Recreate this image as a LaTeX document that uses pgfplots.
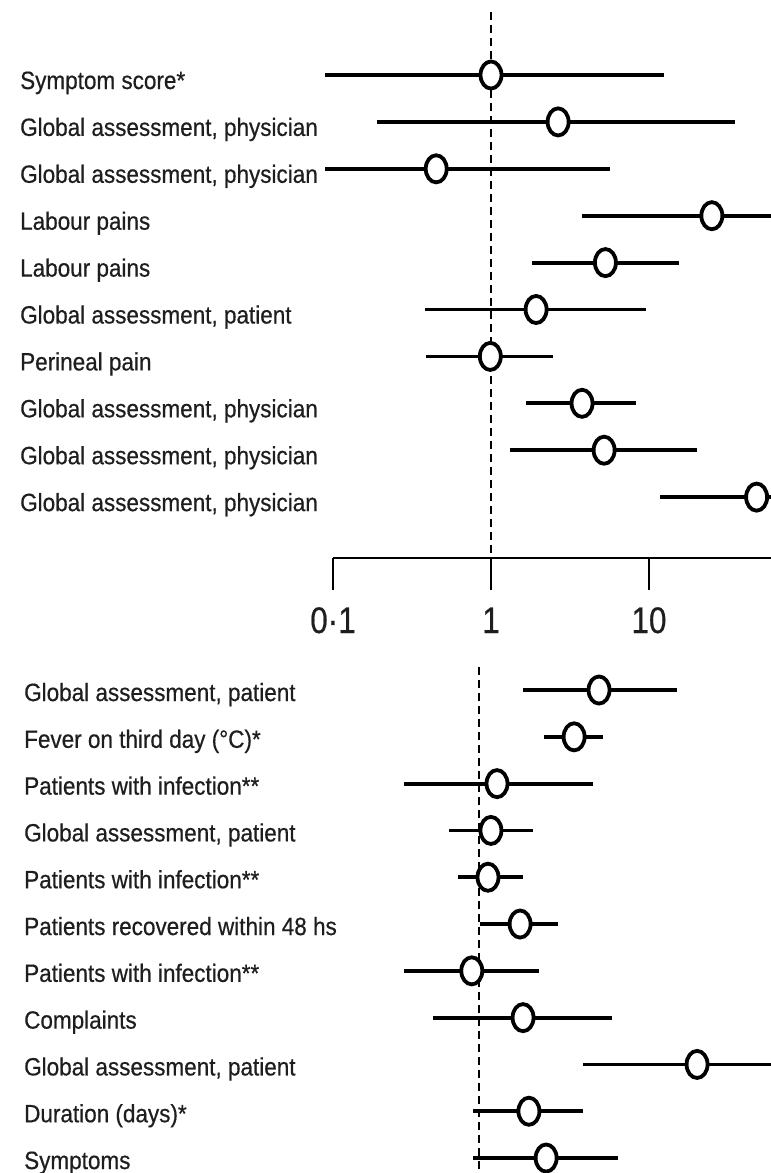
\documentclass[border=0pt]{standalone}
\usepackage{pgfplots}
\pgfplotsset{compat=1.18}
\usepackage{pgfplotstable}
\usepackage{fontspec}
\setmainfont{Liberation Sans}
\newfontfamily\lblfont[FakeStretch=0.9, FakeBold=0.5]{Liberation Sans}
\newfontfamily\tickfont[FakeStretch=0.85, FakeBold=0.5]{Liberation Sans}
\definecolor{labelgray}{HTML}{1E1E1E}

% row  estimate  lower  upper
\pgfplotstableread{
row est lo hi
1 1.0 0.089 12.4
2 2.66 0.19 35
3 0.45 0.089 5.66
4 25 3.77 150
5 5.3 1.82 15.5
6 1.93 0.38 9.6
7 0.99 0.39 2.47
8 3.77 1.66 8.3
9 5.2 1.32 20
10 48 11.7 150
}\toptab

\pgfplotstableread{
row est lo hi
1 5.75 1.9 17.9
2 4.0 2.58 6.1
3 1.30 0.335 5.3
4 1.19 0.645 2.2
5 1.14 0.74 1.9
6 1.82 1.01 3.16
7 0.90 0.335 2.4
8 1.9 0.51 6.9
9 24 4.55 200
10 2.07 0.92 4.55
11 2.66 0.92 7.6
}\bottab

\begin{document}
\begin{tikzpicture}
\useasboundingbox (0pt,0pt) rectangle (771pt,-1173pt);
\clip (0pt,0pt) rectangle (771pt,-1173pt);

% ---------- top panel ----------
\begin{axis}[at={(0pt,0pt)}, anchor=north west, height=600pt,
  scale only axis, width=771pt, xmode=log, y dir=reverse,
  axis line style={draw=none}, xtick=\empty, major tick length=0pt,
  yticklabel style={anchor=base west, inner sep=0pt, font=\lblfont\fontsize{25}{30}\selectfont, text=labelgray, xshift=20pt, yshift=-14pt},
  clip=true,
  xmin=7.80e-4, xmax=59.2, ymin=-0.599, ymax=12.194,
  ytick={1,...,10},
  yticklabels={Symptom score*, {Global assessment, physician}, {Global assessment, physician},
    Labour pains, Labour pains, {Global assessment, patient}, Perineal pain,
    {Global assessment, physician}, {Global assessment, physician}, {Global assessment, physician}}]
\addplot[black, line width=2pt, dash pattern=on 8pt off 5pt] coordinates {(1,-0.343) (1,11.30)};
\addplot[only marks, mark=none, error bars/x dir=both, error bars/x explicit,
  error bars/error mark=none,
  error bars/error bar style={draw=black, solid, line width=3.8pt}]
  table[x=est, y=row,
  x error plus expr=\thisrow{hi}-\thisrow{est},
  x error minus expr=\thisrow{est}-\thisrow{lo}] {\toptab};
\addplot[only marks, mark=*, mark size=10.5pt,
    mark options={draw=black, fill=white, line width=3.8pt, yscale=1.29}]
  table[x=est, y=row] {\toptab};
\end{axis}

% ---------- scale ----------
\begin{axis}[at={(333pt,-558pt)}, anchor=south west, scale only axis,
  width=438pt, height=40pt, xmode=log, xmin=0.1, xmax=59.2, ymin=0, ymax=1,
  axis x line*=bottom, hide y axis,
  axis line style={line width=2pt, black},
  xtick={0.1,1,10}, xticklabels={0·1, 1, 10},
  tick align=outside, major tick length=32pt,
  tick style={line width=2pt, black},
  minor tick style={draw=none},
  xticklabel style={anchor=base, yshift=-43pt, font=\tickfont\fontsize{37}{42}\selectfont, text=labelgray}]
\addplot[draw=none] coordinates {(1,0.5)};
\end{axis}

% ---------- bottom panel ----------
\begin{axis}[at={(0pt,-650pt)}, anchor=north west, height=523pt,
  scale only axis, width=771pt, xmode=log, y dir=reverse,
  axis line style={draw=none}, xtick=\empty, major tick length=0pt,
  yticklabel style={anchor=base west, inner sep=0pt, font=\lblfont\fontsize{25}{30}\selectfont, text=labelgray, xshift=24pt, yshift=-11pt},
  clip=true,
  xmin=9.29e-4, xmax=70.5, ymin=0.145, ymax=11.32,
  ytick={1,...,11},
  yticklabels={{Global assessment, patient}, Fever on third day (°C)*, Patients with infection**,
    {Global assessment, patient}, Patients with infection**, Patients recovered within 48 hs,
    Patients with infection**, Complaints, {Global assessment, patient}, Duration (days)*, Symptoms}]
\addplot[black, line width=2pt, dash pattern=on 8pt off 5pt] coordinates {(1,0.509) (1,11.32)};
\addplot[only marks, mark=none, error bars/x dir=both, error bars/x explicit,
  error bars/error mark=none,
  error bars/error bar style={draw=black, solid, line width=3.8pt}]
  table[x=est, y=row,
  x error plus expr=\thisrow{hi}-\thisrow{est},
  x error minus expr=\thisrow{est}-\thisrow{lo}] {\bottab};
\addplot[only marks, mark=*, mark size=10.5pt,
    mark options={draw=black, fill=white, line width=3.8pt, yscale=1.29}]
  table[x=est, y=row] {\bottab};
\end{axis}
\end{tikzpicture}
\end{document}
